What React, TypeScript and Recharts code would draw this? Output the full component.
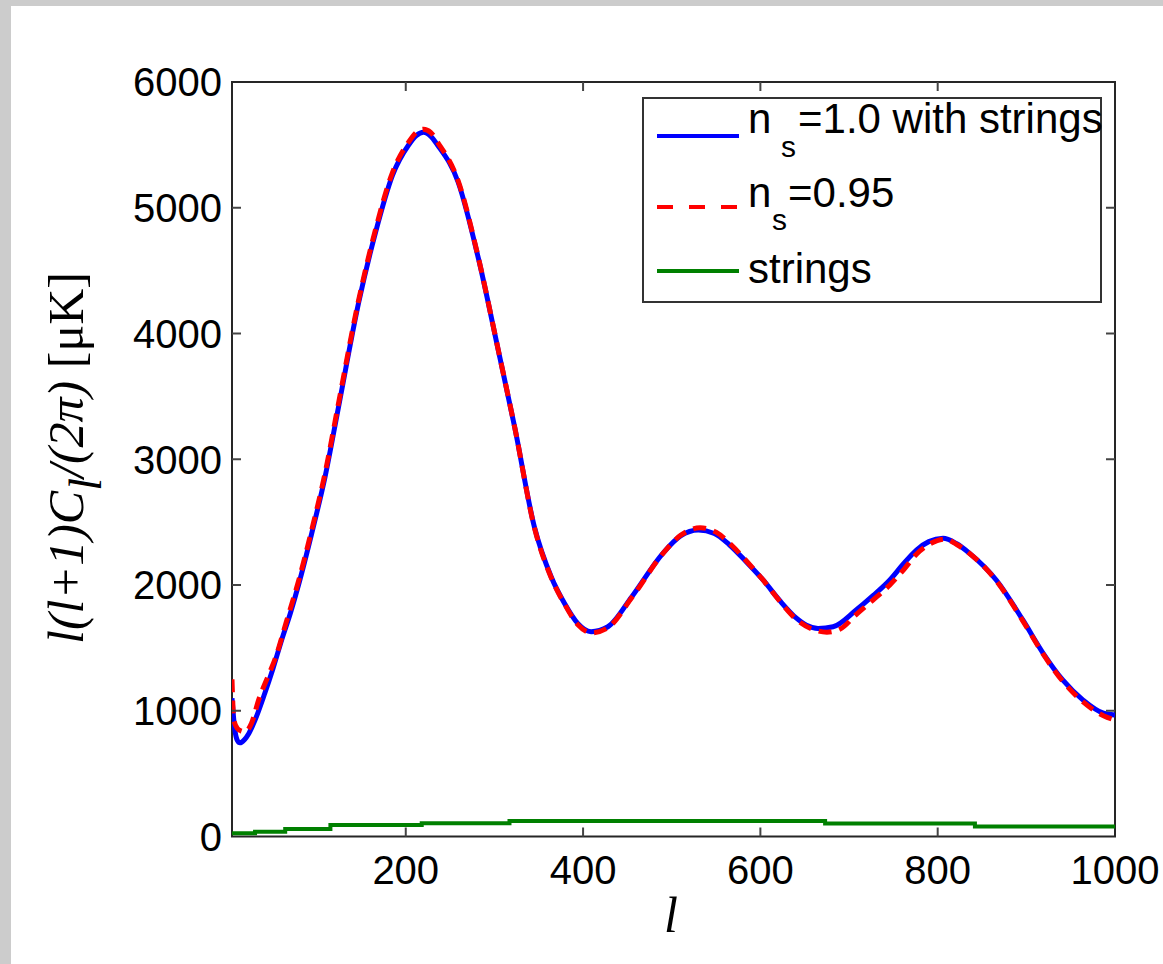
import { LineChart, Line, XAxis, YAxis, ReferenceArea } from "recharts";

// multipole l and l(l+1)C_l/(2pi)
const ELL_BLUE = [4, 7, 10, 13, 18, 23, 30, 41, 50, 60, 70, 79, 94, 109, 124, 147, 166, 185, 203, 212, 220, 228, 236, 259, 282, 304, 323, 345, 364, 379, 394, 409, 428, 455, 490, 510, 530, 548, 565, 584, 603, 622, 640, 652, 665, 682, 708, 727, 746, 761, 776, 790, 806, 821, 836, 866, 896, 919, 941, 964, 987, 1000];
const CL_BLUE = [1100, 860, 765, 745, 770, 820, 926, 1139, 1330, 1563, 1780, 2000, 2413, 2861, 3410, 4250, 4807, 5258, 5497, 5575, 5600, 5570, 5497, 5205, 4595, 3879, 3250, 2464, 2066, 1855, 1695, 1629, 1668, 1907, 2252, 2390, 2437, 2410, 2320, 2185, 2040, 1875, 1740, 1680, 1655, 1668, 1801, 1915, 2040, 2165, 2278, 2345, 2371, 2330, 2252, 2040, 1722, 1457, 1245, 1085, 980, 966];

const ELL_RED = [4, 6, 10, 14, 19, 26, 34, 45, 53, 65, 79, 94, 109, 124, 147, 166, 185, 203, 212, 220, 228, 236, 259, 282, 304, 323, 345, 364, 379, 394, 410, 428, 455, 490, 510, 532, 550, 567, 585, 603, 622, 640, 660, 675, 690, 708, 727, 746, 762, 776, 792, 808, 822, 836, 866, 896, 919, 941, 964, 987, 1000];
const CL_RED = [1250, 930, 860, 840, 833, 900, 1085, 1280, 1420, 1700, 2030, 2440, 2890, 3440, 4270, 4830, 5280, 5520, 5600, 5625, 5600, 5520, 5215, 4600, 3880, 3250, 2460, 2060, 1850, 1685, 1620, 1660, 1900, 2250, 2395, 2455, 2420, 2320, 2185, 2040, 1870, 1730, 1645, 1625, 1650, 1765, 1880, 2000, 2125, 2245, 2330, 2365, 2320, 2250, 2035, 1715, 1450, 1235, 1070, 960, 926];

const ELL_STRINGS = [4, 30, 64, 115, 218, 317, 673, 842, 1000];
const CL_STRINGS = [25, 38, 60, 91, 105, 123, 103, 80, 80];

const X_TICKS = [200, 400, 600, 800, 1000];
const Y_TICKS = [0, 1000, 2000, 3000, 4000, 5000, 6000];

const blueData = ELL_BLUE.map((l, i) => ({ l, v: CL_BLUE[i] }));
const redData = ELL_RED.map((l, i) => ({ l, v: CL_RED[i] }));
const stringsData = ELL_STRINGS.map((l, i) => ({ l, v: CL_STRINGS[i] }));

const W = 1152;
const H = 958;
const PLOT_LEFT = 221;
const PLOT_RIGHT = 1104;
const PLOT_TOP = 76;
const PLOT_BOTTOM = 830.5;
const SANS = "'Liberation Sans', Arial, Helvetica, sans-serif";
const SERIF = "'Liberation Serif', 'Times New Roman', serif";
const TICK_COLOR = "#444";

function XTick(props: any) {
  const { x, payload } = props;
  const edge = payload.value === 1000;
  return (
    <g>
      <text x={x} y={PLOT_BOTTOM + 47.5} textAnchor="middle" fontSize={40} fontFamily={SANS} fill="#000">
        {payload.value}
      </text>
      {!edge && <line x1={x} x2={x} y1={PLOT_BOTTOM} y2={PLOT_BOTTOM - 9} stroke={TICK_COLOR} strokeWidth={2} />}
      {!edge && <line x1={x} x2={x} y1={PLOT_TOP} y2={PLOT_TOP + 9} stroke={TICK_COLOR} strokeWidth={2} />}
    </g>
  );
}

function YTick(props: any) {
  const { y, payload } = props;
  const edge = payload.value === 0 || payload.value === 6000;
  return (
    <g>
      <text x={PLOT_LEFT - 10} y={y} dy="0.36em" textAnchor="end" fontSize={40} fontFamily={SANS} fill="#000">
        {payload.value}
      </text>
      {!edge && <line x1={PLOT_LEFT} x2={PLOT_LEFT + 9} y1={y} y2={y} stroke={TICK_COLOR} strokeWidth={2} />}
      {!edge && <line x1={PLOT_RIGHT - 9} x2={PLOT_RIGHT} y1={y} y2={y} stroke={TICK_COLOR} strokeWidth={2} />}
    </g>
  );
}

function YLabel() {
  const cx = 72;
  const cy = 452;
  return (
    <text
      x={cx}
      y={cy}
      transform={`rotate(-90, ${cx}, ${cy})`}
      textAnchor="middle"
      fontSize={50}
      fontFamily={SERIF}
      fill="#000"
    >
      <tspan fontStyle="italic">l(l+1)C</tspan>
      <tspan fontStyle="italic" dy={18} fontSize={46}>l</tspan>
      <tspan fontStyle="italic" dy={-18}>/(2π)</tspan>
      <tspan>  [μK]</tspan>
    </text>
  );
}

function XLabel() {
  return (
    <text x={660} y={926} textAnchor="middle" fontSize={50} fontFamily={SERIF} fontStyle="italic" fill="#000">
      l
    </text>
  );
}

function LegendBox() {
  return (
    <svg
      width={460}
      height={206}
      style={{ position: "absolute", left: 631, top: 91, overflow: "visible" }}
    >
      <rect x={1} y={1} width={458} height={204} fill="#fff" stroke="#333" strokeWidth={2} />
      <line x1={15} x2={97} y1={39} y2={39} stroke="#0000ff" strokeWidth={4} />
      <line x1={15} x2={97} y1={110} y2={110} stroke="#ff0000" strokeWidth={4} strokeDasharray="16 16" />
      <line x1={15} x2={97} y1={174} y2={174} stroke="#008000" strokeWidth={4} />
      <text fontFamily={SANS} fontSize={42} fill="#000">
        <tspan x={106} y={36}>n</tspan>
        <tspan x={139} y={60} fontSize={30}>s</tspan>
        <tspan x={156} y={36}>=1.0 with strings</tspan>
      </text>
      <text fontFamily={SANS} fontSize={42} fill="#000">
        <tspan x={106} y={110}>n</tspan>
        <tspan x={130} y={133} fontSize={30}>s</tspan>
        <tspan x={146} y={110}>=0.95</tspan>
      </text>
      <text x={106} y={186} fontFamily={SANS} fontSize={42} fill="#000">
        strings
      </text>
    </svg>
  );
}

export default function App() {
  return (
    <div style={{ position: "absolute", left: 0, top: 0, width: 1163, height: 964, background: "#cccccc" }}>
      <div style={{ position: "absolute", left: 11, top: 6, width: W, height: H, background: "#fff" }}>
        <LineChart width={W} height={H} margin={{ top: PLOT_TOP, right: W - PLOT_RIGHT, bottom: 0, left: 0 }}>
          <XAxis
            type="number"
            dataKey="l"
            domain={[4, 1000]}
            ticks={X_TICKS}
            interval={0}
            height={H - PLOT_BOTTOM}
            axisLine={false}
            tickLine={false}
            tick={<XTick />}
            label={<XLabel />}
            allowDataOverflow
          />
          <YAxis
            type="number"
            domain={[0, 6000]}
            ticks={Y_TICKS}
            interval={0}
            width={PLOT_LEFT}
            axisLine={false}
            tickLine={false}
            tick={<YTick />}
            label={<YLabel />}
            allowDataOverflow
          />
          <ReferenceArea x1={4} x2={1000} y1={0} y2={6000} fill="none" stroke="#262626" strokeWidth={2} />
          <Line
            data={blueData}
            dataKey="v"
            type="monotone"
            stroke="#0000ff"
            strokeWidth={5}
            dot={false}
            isAnimationActive={false}
          />
          <Line
            data={redData}
            dataKey="v"
            type="monotone"
            stroke="#ff0000"
            strokeWidth={5}
            strokeDasharray="13 8"
            dot={false}
            isAnimationActive={false}
          />
          <Line
            data={stringsData}
            dataKey="v"
            type="stepAfter"
            stroke="#008000"
            strokeWidth={4}
            dot={false}
            isAnimationActive={false}
          />
        </LineChart>
        <LegendBox />
      </div>
    </div>
  );
}
